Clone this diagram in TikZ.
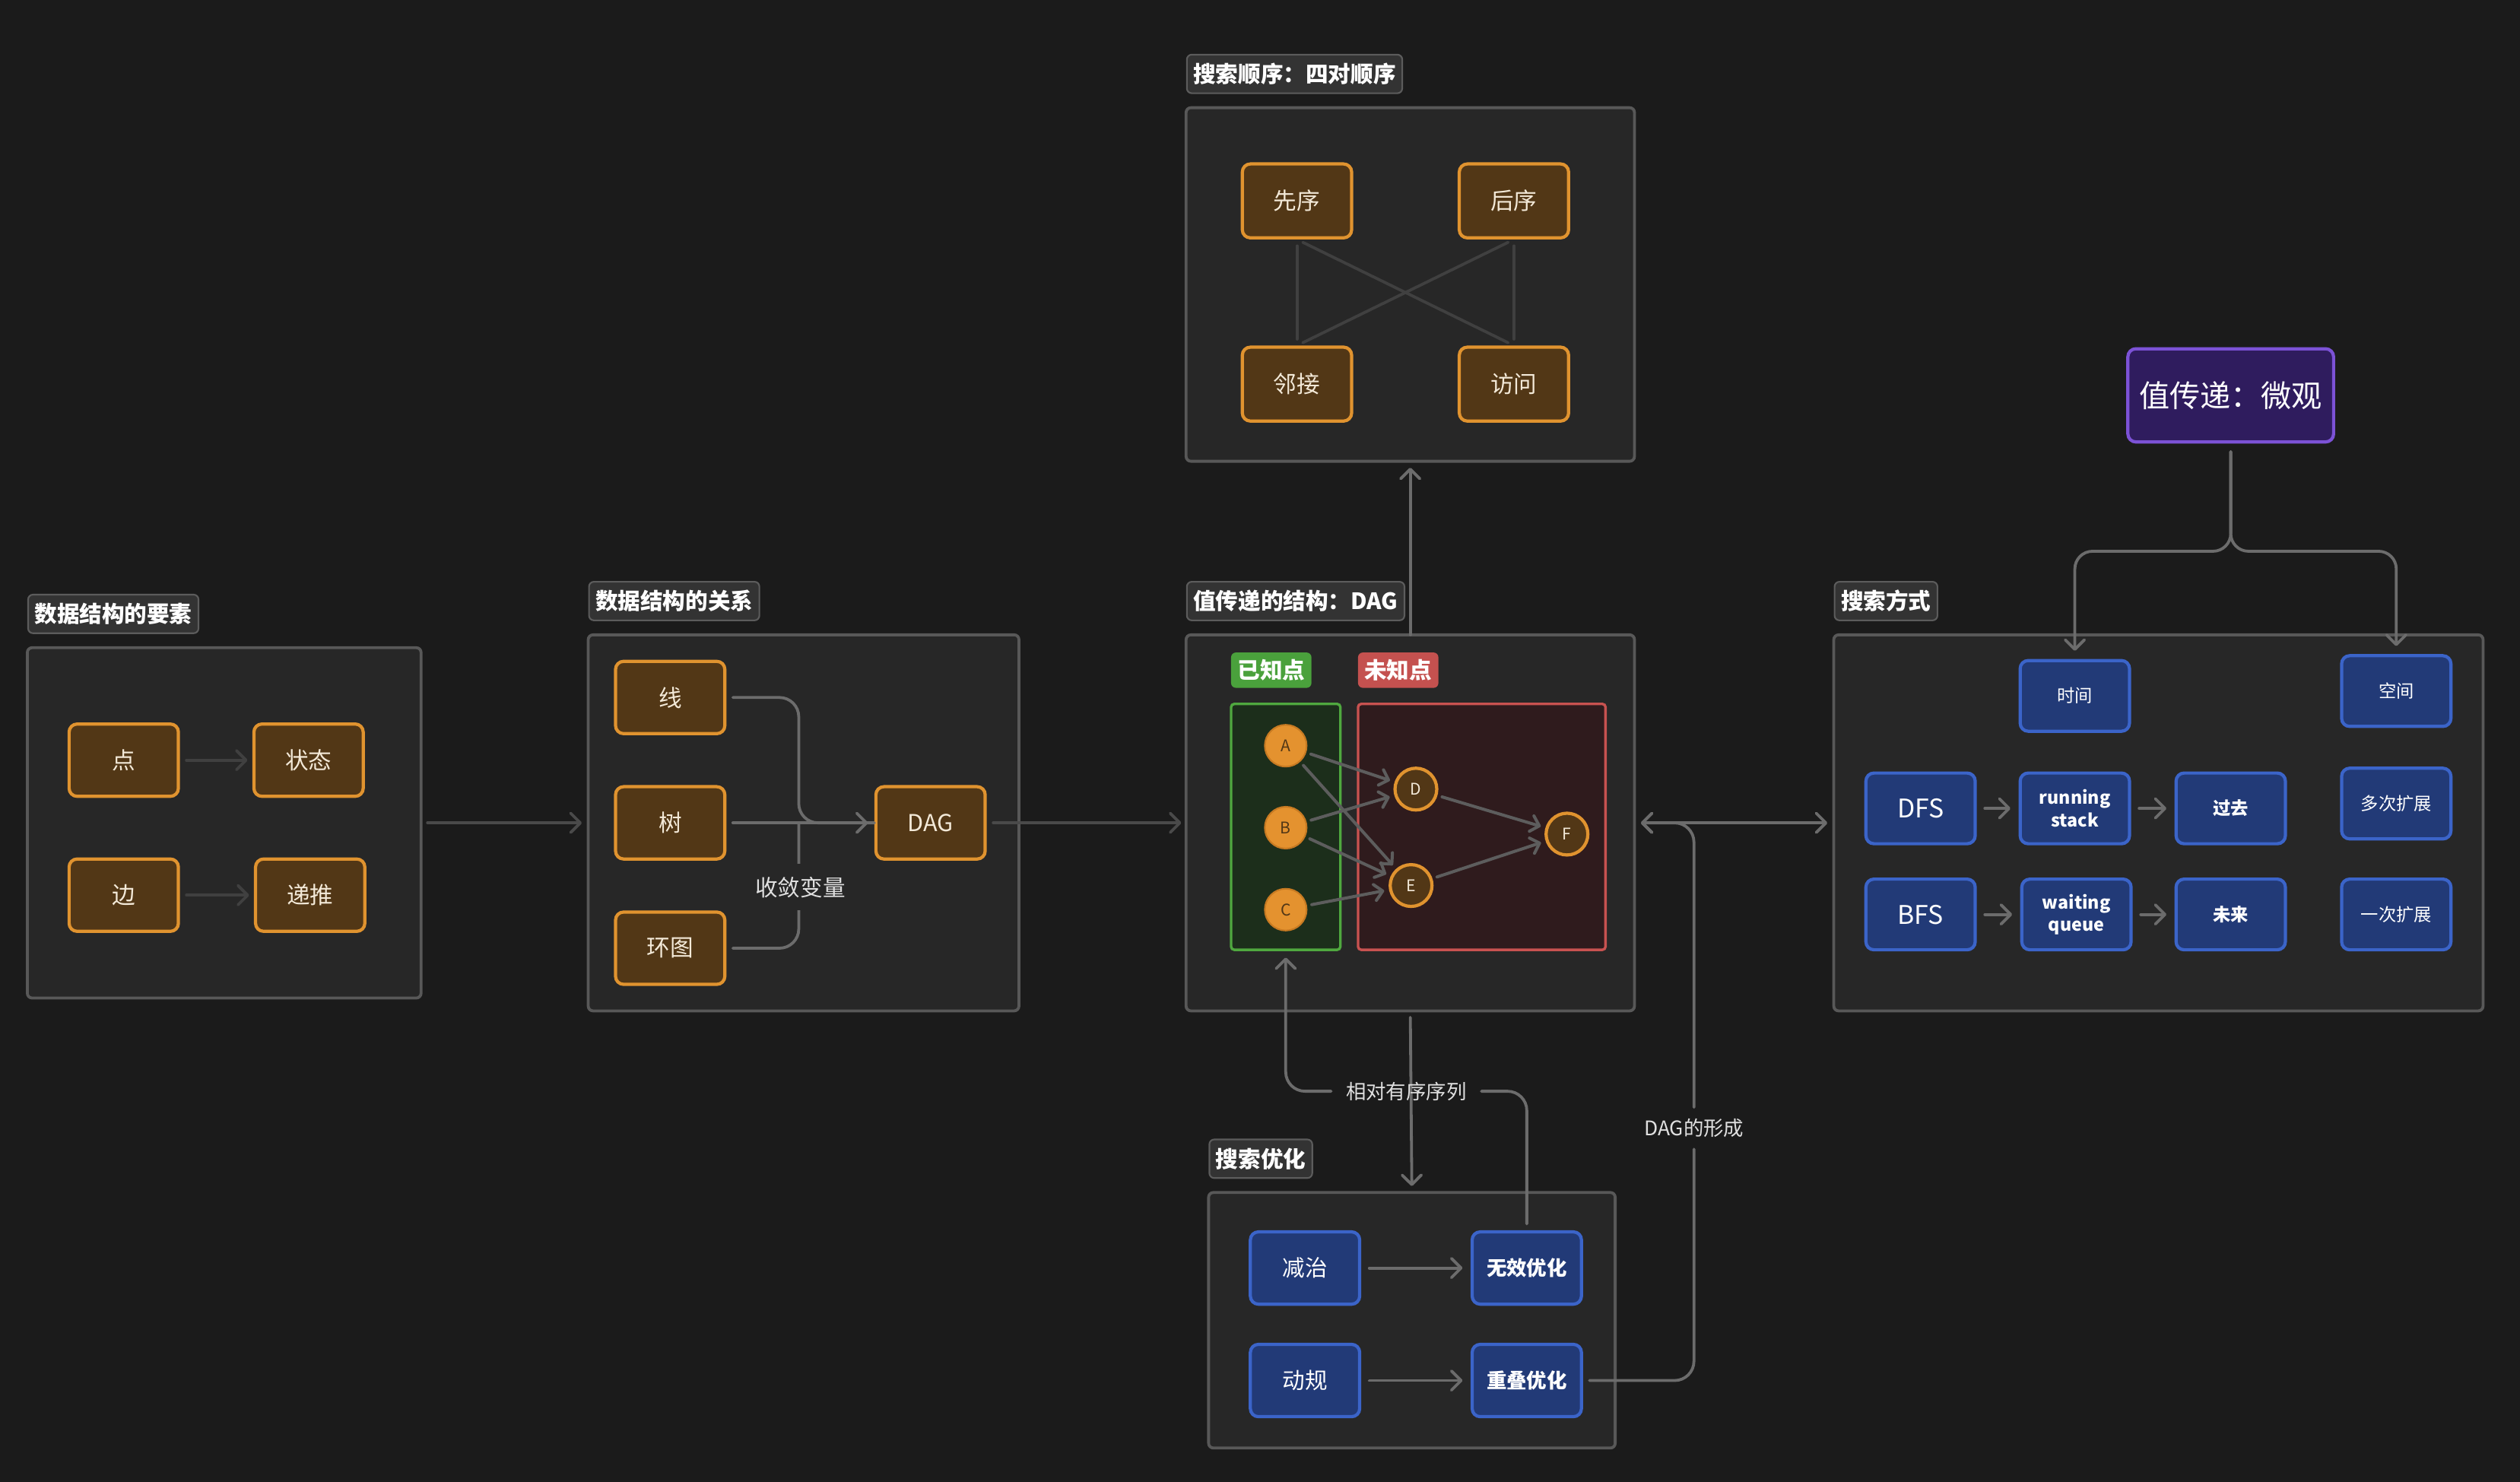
\documentclass[tikz,border=0pt]{standalone}
\usepackage{fontspec}
\usetikzlibrary{arrows.meta}
\newfontfamily\cjk{Noto Sans CJK SC}
\setmainfont{Noto Sans CJK SC}

\definecolor{bgc}{HTML}{1B1B1B}
\definecolor{panelF}{HTML}{272727}
\definecolor{panelB}{HTML}{585858}
\definecolor{tagF}{HTML}{333333}
\definecolor{tagB}{HTML}{5C5C5C}
\definecolor{oF}{HTML}{523716}
\definecolor{oB}{HTML}{E0932F}
\definecolor{oT}{HTML}{F3E9D8}
\definecolor{bF}{HTML}{223A77}
\definecolor{bB}{HTML}{3B64C9}
\definecolor{pF}{HTML}{2F1C5E}
\definecolor{pB}{HTML}{7C52D6}
\definecolor{gTag}{HTML}{4AA13C}
\definecolor{gF}{HTML}{1C2E1B}
\definecolor{gB}{HTML}{4FA83F}
\definecolor{rTag}{HTML}{C4514F}
\definecolor{rF}{HTML}{2F1B1D}
\definecolor{rB}{HTML}{C85250}
\definecolor{kcF}{HTML}{E4922F}
\definecolor{kcB}{HTML}{C77A22}
\definecolor{lnk}{HTML}{6C6C6C}
\definecolor{faint}{HTML}{404040}
\definecolor{dim}{HTML}{4A4A4A}

\tikzset{
  >={Straight Barb[length=6pt,width=12pt,round]},
  panel/.style={draw=panelB, fill=panelF, line width=1.8pt, rounded corners=3pt,
    inner sep=0pt, outer sep=0pt, anchor=north west},
  tag/.style={draw=tagB, fill=tagF, line width=1pt, rounded corners=3pt, text=white,
    font=\bfseries\fontsize{14}{16}\selectfont, minimum height=24pt, inner xsep=4pt,
    inner ysep=0pt, anchor=west},
  onode/.style={draw=oB, fill=oF, line width=2pt, rounded corners=5pt, text=oT,
    minimum width=68pt, minimum height=45pt, inner sep=0pt,
    font=\fontsize{14.5}{16}\selectfont},
  bnode/.style={draw=bB, fill=bF, line width=2pt, rounded corners=5pt, text=white,
    minimum width=68pt, minimum height=44pt, inner sep=0pt, align=center,
    font=\fontsize{11}{13}\selectfont},
  kc/.style={circle, draw=kcB, fill=kcF, line width=1pt, minimum size=26pt, inner sep=0pt,
    text=oF, font=\fontsize{10}{12}\selectfont},
  uc/.style={circle, draw=oB, fill=oF, line width=2pt, minimum size=26pt, inner sep=0pt,
    text=oT, font=\fontsize{10}{12}\selectfont},
  link/.style={draw=lnk, line width=1.8pt, line cap=round},
  flink/.style={draw=faint, line width=1.8pt, line cap=round},
  dlink/.style={draw=dim, line width=1.8pt, line cap=round},
  elabel/.style={text=white!88!black, font=\fontsize{13}{15}\selectfont, inner sep=0pt}
}

\begin{document}
\begin{tikzpicture}[x=1pt,y=-1pt]
\fill[bgc] (0,0) rectangle (1568,922);
\useasboundingbox (0,0) rectangle (1568,922);

% ---------- panels ----------
\node[panel, minimum width=245pt, minimum height=218pt] (p1) at (17,403) {};
\node[panel, minimum width=268pt, minimum height=234pt] (p2) at (366,395) {};
\node[panel, minimum width=279pt, minimum height=234pt] (p3) at (738,395) {};
\node[panel, minimum width=279pt, minimum height=220pt] (p4) at (738,67) {};
\node[panel, minimum width=404pt, minimum height=234pt] (p5) at (1141,395) {};
\node[panel, minimum width=253pt, minimum height=159pt] (p6) at (752,742) {};

% ---------- panel titles ----------
\node[tag] (t1) at (17,382) {数据结构的要素};
\node[tag] (t2) at (366,374) {数据结构的关系};
\node[tag] (t3) at (738,374) {值传递的结构：DAG};
\node[tag] (t4) at (738,46) {搜索顺序：四对顺序};
\node[tag] (t5) at (1141,374) {搜索方式};
\node[tag] (t6) at (752,721) {搜索优化};

% ---------- elements of data structures ----------
\node[onode] (dian) at (77,473) {点};
\node[onode] (zhuangtai) at (192,473) {状态};
\node[onode] (bian) at (77,557) {边};
\node[onode] (ditui) at (193,557) {递推};
\draw[flink,->,shorten <=4pt,shorten >=3pt] (dian) -- (zhuangtai);
\draw[flink,->,shorten <=4pt,shorten >=3pt] (bian) -- (ditui);

% ---------- relations of data structures ----------
\node[onode] (xian) at (417,434) {线};
\node[onode] (shu) at (417,512) {树};
\node[onode] (huantu) at (417,590) {环图};
\node[onode] (dag) at (579,512) {DAG};
\coordinate (m2) at (497,512);
\draw[link, rounded corners=12pt, shorten <=4pt] (xian.east) -| (m2) -- (dag.west);
\draw[link, rounded corners=12pt, shorten <=4pt] (huantu.east) -| (m2);
\draw[link, ->, shorten <=4pt, shorten >=4pt] (shu.east) -- (dag.west);
\node[elabel, fill=panelF, inner xsep=4pt, inner ysep=8pt, font=\fontsize{14}{16}\selectfont] (shoulian) at (498,552) {收敛变量};

% ---------- DAG of value passing ----------
\node[font=\bfseries\fontsize{14}{16}\selectfont, text=white, fill=gTag, rounded corners=3pt,
  minimum width=50pt, minimum height=22pt, inner sep=0pt] (known) at (791,417) {已知点};
\node[font=\bfseries\fontsize{14}{16}\selectfont, text=white, fill=rTag, rounded corners=3pt,
  minimum width=50pt, minimum height=22pt, inner sep=0pt] (unknown) at (870,417) {未知点};
\node[draw=gB, fill=gF, line width=1.6pt, rounded corners=2pt, minimum width=68pt,
  minimum height=153pt, inner sep=0pt] (gbox) at (800,514.5) {};
\node[draw=rB, fill=rF, line width=1.6pt, rounded corners=2pt, minimum width=154pt,
  minimum height=153pt, inner sep=0pt] (rbox) at (922,514.5) {};
\node[kc] (A) at (800,464) {A};
\node[kc] (B) at (800,515) {B};
\node[kc] (C) at (800,566) {C};
\node[uc] (D) at (881,491) {D};
\node[uc] (E) at (878,551) {E};
\node[uc] (F) at (975,519) {F};
\begin{scope}[>={Straight Barb[length=5pt,width=10pt,round]}]
  \foreach \s/\t in {A/D, A/E, B/D, B/E, C/E, D/F, E/F}
    \draw[draw=lnk!110, line width=1.9pt, line cap=round, ->, shorten <=3pt, shorten >=3pt] (\s) -- (\t);
\end{scope}

% ---------- four search orders ----------
\node[onode, minimum height=46pt] (xianxu) at (807,125) {先序};
\node[onode, minimum height=46pt] (houxu) at (942,125) {后序};
\node[onode, minimum height=46pt] (linjie) at (807,239) {邻接};
\node[onode, minimum height=46pt] (fangwen) at (942,239) {访问};
\draw[flink, shorten <=4pt, shorten >=4pt] (xianxu.south) -- (linjie.north);
\draw[flink, shorten <=4pt, shorten >=4pt] (houxu.south) -- (fangwen.north);
\draw[flink, shorten <=4pt, shorten >=4pt] (xianxu.south) -- (fangwen.north);
\draw[flink, shorten <=4pt, shorten >=4pt] (houxu.south) -- (linjie.north);

% ---------- search methods ----------
\node[bnode] (shijian) at (1291,433) {时间};
\node[bnode] (kongjian) at (1491,430) {空间};
\node[bnode, font=\fontsize{16}{18}\selectfont] (dfs) at (1195,503) {DFS};
\node[bnode, font=\bfseries\fontsize{11}{14}\selectfont] (rstack) at (1291,503) {running\\stack};
\node[bnode, font=\bfseries\fontsize{11}{13}\selectfont] (guoqu) at (1388,503) {过去};
\node[bnode] (duoci) at (1491,500) {多次扩展};
\node[bnode, font=\fontsize{16}{18}\selectfont] (bfs) at (1195,569) {BFS};
\node[bnode, font=\bfseries\fontsize{11}{14}\selectfont] (wqueue) at (1292,569) {waiting\\queue};
\node[bnode, font=\bfseries\fontsize{11}{13}\selectfont] (weilai) at (1388,569) {未来};
\node[bnode] (yici) at (1491,569) {一次扩展};
\draw[link, ->, shorten <=5pt, shorten >=5pt] (dfs) -- (rstack);
\draw[link, ->, shorten <=5pt, shorten >=5pt] (rstack) -- (guoqu);
\draw[link, ->, shorten <=5pt, shorten >=5pt] (bfs) -- (wqueue);
\draw[link, ->, shorten <=5pt, shorten >=5pt] (wqueue) -- (weilai);

% ---------- micro view of value passing ----------
\node[draw=pB, fill=pF, line width=2pt, rounded corners=5pt, minimum width=128pt,
  minimum height=58pt, text=white, font=\fontsize{19}{21}\selectfont] (micro) at (1388,246) {值传递：微观};
\coordinate (br) at (1388,343);
\draw[link, ->, rounded corners=11pt, shorten <=5pt, shorten >=5pt] (micro.south) -- (br) -| (shijian.north);
\draw[link, ->, rounded corners=11pt, shorten <=5pt, shorten >=5pt] (micro.south) -- (br) -| (kongjian.north);

% ---------- search optimisation ----------
\node[bnode, font=\fontsize{14}{16}\selectfont, minimum height=45pt] (jianzhi) at (812,789) {减治};
\node[bnode, font=\bfseries\fontsize{12.5}{14}\selectfont, minimum height=45pt] (wuxiao) at (950,789) {无效优化};
\node[bnode, font=\fontsize{14}{16}\selectfont, minimum height=45pt] (donggui) at (812,859) {动规};
\node[bnode, font=\bfseries\fontsize{12.5}{14}\selectfont, minimum height=45pt] (chongdie) at (950,859) {重叠优化};
\draw[link, ->, shorten <=5pt, shorten >=5pt] (jianzhi) -- (wuxiao);
\draw[link, ->, shorten <=5pt, shorten >=5pt] (donggui) -- (chongdie);

% ---------- connectors between panels ----------
\draw[dlink, ->, shorten <=4pt, shorten >=4pt] (p1.east) -- (p2.west);
\draw[dlink, ->, shorten <=4pt, shorten >=3pt] (dag.east) -- (p3.west);
\draw[link, ->, shorten >=4pt] (p3.north) -- (p4.south);

% relative ordered sequence: optimisation back to the known points
\node[elabel, font=\fontsize{12.5}{14}\selectfont] (xulie) at (875,679) {\phantom{相对有序序列}};
\draw[link, rounded corners=12pt, shorten <=4pt, shorten >=9pt] (wuxiao.north) |- (xulie.east);
\draw[link, ->, rounded corners=12pt, shorten <=9pt, shorten >=4pt] (xulie.west) -| (gbox.south);
\draw[link, ->, shorten <=4pt, shorten >=4pt] (p3.south) -- (p6.north);
\node[elabel, font=\fontsize{12.5}{14}\selectfont] at (xulie) {相对有序序列};

% formation of the DAG
\node[elabel, font=\fontsize{12.5}{14}\selectfont, inner ysep=7pt] (dagform) at (1054,702) {DAG的形成};
\draw[link, rounded corners=12pt, shorten <=4pt] (chongdie.east) -| (dagform.south);
\draw[link, ->, rounded corners=12pt, shorten >=4pt] (dagform.north) |- (p3.east);
\draw[link, <->, shorten <=4pt, shorten >=4pt] (p3.east) -- (p5.west);

\end{tikzpicture}
\end{document}
